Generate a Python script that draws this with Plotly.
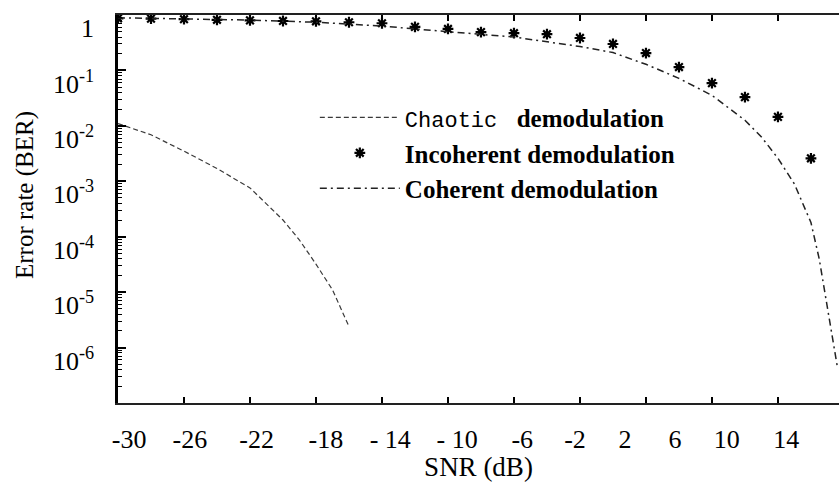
import plotly.graph_objects as go

# Bit-error rate versus SNR for three demodulation schemes
snr_chaotic = [-30, -28, -26, -24, -22, -20, -19, -18, -17, -16]
ber_chaotic = [1.1e-2, 6.9e-3, 3.5e-3, 1.7e-3, 7.6e-4, 2.0e-4, 8.7e-5, 3.2e-5, 1.1e-5, 2.4e-6]

snr_incoherent = [-30, -28, -26, -24, -22, -20, -18, -16, -14, -12, -10, -8, -6, -4, -2,
                  0, 2, 4, 6, 8, 10, 12]
ber_incoherent = [0.87, 0.86, 0.84, 0.82, 0.80, 0.78, 0.77, 0.74, 0.71, 0.61, 0.56, 0.49,
                  0.47, 0.45, 0.385, 0.30, 0.206, 0.115, 0.059, 0.033, 0.0145, 0.0026]

snr_coherent = [-30, -26, -22, -18, -14, -10, -6, -2, 0, 2, 4, 6, 8, 9, 10, 11, 12,
                12.5, 13, 13.6]
ber_coherent = [0.89, 0.85, 0.81, 0.74, 0.63, 0.50, 0.40, 0.27, 0.21, 0.129, 0.072, 0.0355,
                0.0126, 6.3e-3, 2.6e-3, 8.9e-4, 1.8e-4, 4.0e-5, 5.6e-6, 4.5e-7]

# Axis ticks and their printed labels
x_tick_vals = [-26, -22, -18, -14, -10, -6, -2, 2, 6, 10]
x_label_pos = [-29.33, -25.64, -21.6, -17.4, -13.5, -9.45, -5.5, -2.3, 0.73, 3.76, 6.9, 10.5]
x_label_text = ["-30", "-26", "-22", "-18", "- 14", "- 10", "-6", "-2", "2", "6", "10", "14"]
y_tick_vals = [1, 1e-1, 1e-2, 1e-3, 1e-4, 1e-5, 1e-6]
y_tick_text = ["1", "10<sup>-1</sup>", "10<sup>-2</sup>", "10<sup>-3</sup>",
               "10<sup>-4</sup>", "10<sup>-5</sup>", "10<sup>-6</sup>"]

X_RANGE = [-30, 13.7]
Y_RANGE = [-7, 0]
SERIF = "Liberation Serif, Times New Roman, serif"

fig = go.Figure()
fig.add_trace(go.Scatter(
    x=snr_chaotic, y=ber_chaotic, mode="lines",
    name='<span style="font-family:Liberation Mono;font-weight:normal;font-size:22px">Chaotic </span> demodulation',
    line=dict(color="#3a3a3a", width=1.2, dash="5px,3px"),
))
fig.add_trace(go.Scatter(
    x=snr_incoherent, y=ber_incoherent, mode="markers",
    name="Incoherent demodulation",
    marker=dict(symbol="asterisk", size=9, color="black", line=dict(color="black", width=2.2)),
))
fig.add_trace(go.Scatter(
    x=snr_coherent, y=ber_coherent, mode="lines",
    name="Coherent demodulation",
    line=dict(color="#222222", width=1.5, dash="7px,4px,2px,4px"),
))

fig.update_layout(
    width=839, height=482,
    margin=dict(l=118, r=0, t=15, b=79, pad=0),
    paper_bgcolor="white", plot_bgcolor="white",
    font=dict(family=SERIF, color="black", size=26),
    showlegend=True,
    legend=dict(
        x=0.273, y=0.795, xanchor="left", yanchor="top",
        bgcolor="rgba(0,0,0,0)", itemwidth=80,
        font=dict(family=SERIF, size=25, color="black", weight="bold"),
    ),
    xaxis=dict(
        range=X_RANGE, tickmode="array", tickvals=x_label_pos, ticktext=x_label_text,
        ticks="", ticklabelstandoff=12,
        minor=dict(tickmode="array", tickvals=x_tick_vals, ticks="inside", ticklen=6,
                   tickwidth=2, tickcolor="black", showgrid=False),
        showline=True, linewidth=2, linecolor="#222222", mirror="ticks",
        showgrid=False, zeroline=False,
        tickfont=dict(family=SERIF, size=26, color="black"),
        title=dict(text="SNR (dB)", font=dict(family=SERIF, size=27, color="black"), standoff=7),
    ),
    yaxis=dict(
        type="log", range=Y_RANGE, tickmode="array", tickvals=y_tick_vals, ticktext=y_tick_text,
        ticks="inside", ticklen=8, tickwidth=2, tickcolor="black",
        minor=dict(ticks="inside", ticklen=4, tickwidth=1, tickcolor="black", dtick="D1", showgrid=False),
        showline=True, linewidth=2.5, linecolor="black", mirror=False,
        showgrid=False, zeroline=False,
        tickfont=dict(family=SERIF, size=26, color="black"),
        ticklabelshift=13, ticklabelstandoff=16,
    ),
    yaxis2=dict(
        type="log", range=Y_RANGE, overlaying="y", side="right", anchor="x",
        tickmode="array", tickvals=y_tick_vals,
        ticks="inside", ticklen=3, tickwidth=2, tickcolor="black",
        showticklabels=False, showline=False, showgrid=False, zeroline=False,
    ),
)

# Vertical axis title, set slightly above the plot's mid-height
fig.add_annotation(
    text="Error rate (BER)", textangle=-90, showarrow=False,
    xref="paper", yref="paper", x=-0.129, y=0.536, xanchor="center", yanchor="middle",
    font=dict(family=SERIF, size=25, color="black"),
)

fig.write_html("out.html")
